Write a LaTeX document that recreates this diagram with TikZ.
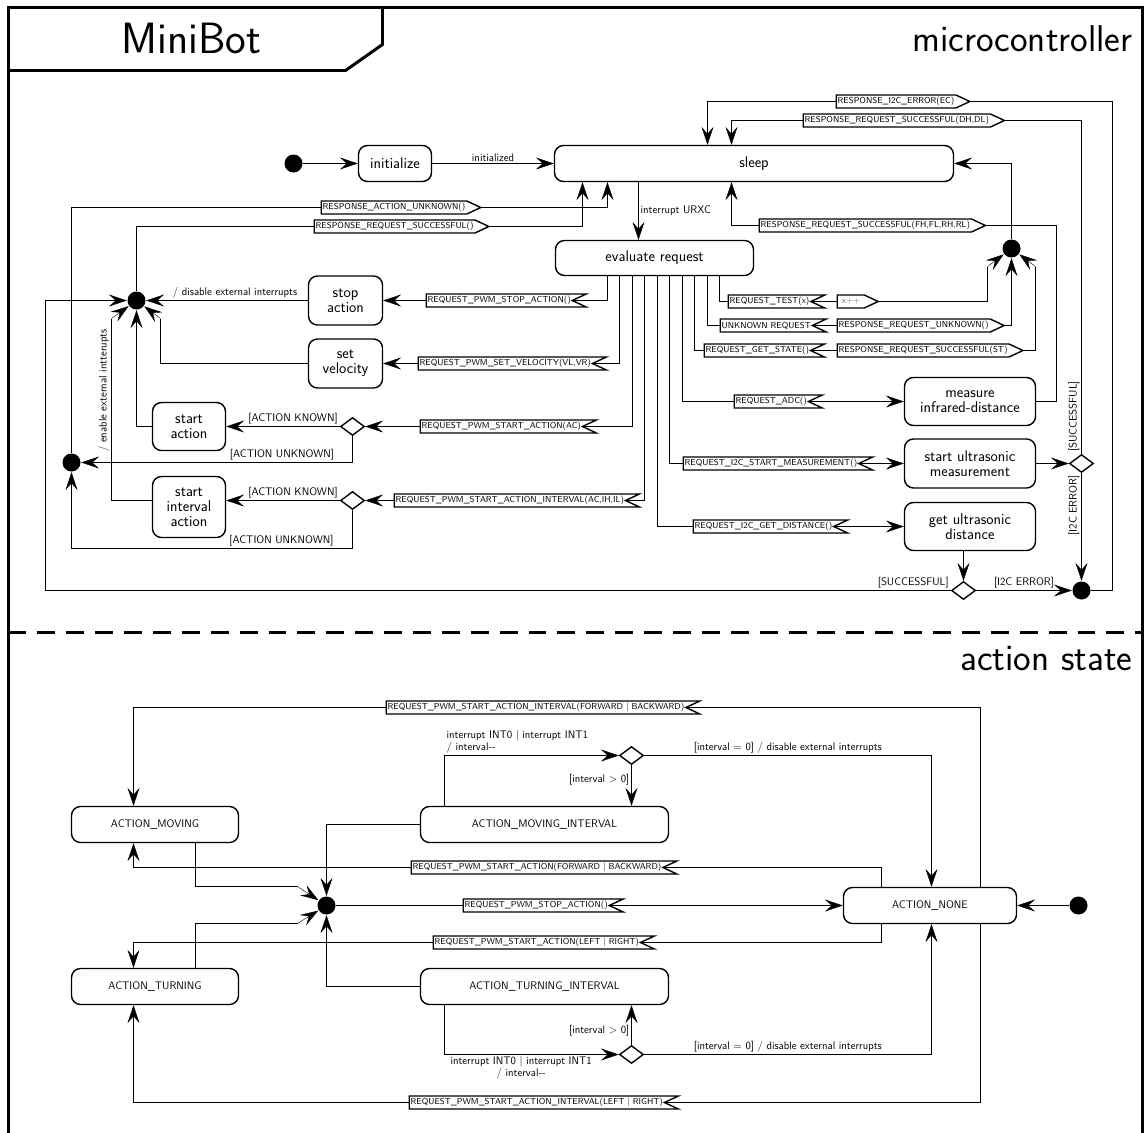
\documentclass[tikz,border=0pt]{standalone}
\usepackage{amsmath}
\usepackage{tikz}
\usetikzlibrary{arrows.meta, positioning, calc, backgrounds, shapes.geometric, shapes.symbols}
\renewcommand{\familydefault}{\sfdefault}

\begin{document}
\begin{tikzpicture}[
    x=1bp, y=-1bp, line width=1.4pt,
    >={Stealth[length=18pt, width=12pt, inset=7pt]},
    state/.style={draw, rounded corners=9pt, align=center, inner sep=2pt, font=\fontsize{15.5}{15}\selectfont},
    astate/.style={state, minimum width=167bp, minimum height=36bp, font=\fontsize{11}{13}\selectfont},
    sendsig/.style={signal, signal to=east, signal from=nowhere, signal pointer angle=50, draw, fill=white, anchor=west, minimum height=13bp, inner sep=1.5pt, font=\fontsize{8.7}{9}\selectfont},
    recvsig/.style={sendsig, signal to=nowhere, signal from=east},
    dot/.style={circle, fill, inner sep=0pt, minimum size=18bp},
    choice/.style={diamond, draw, fill=white, inner sep=0pt, minimum width=24bp, minimum height=18bp},
    lbl/.style={font=\fontsize{11}{12}\selectfont, inner sep=2pt},
]
    \useasboundingbox (-0.5,-0.5) rectangle (1147.5,1132.5);

    % frame and title
    \draw[line width=3pt] (8,1140) -- (8,7) -- (1142,7) -- (1142,1140);
    \draw[line width=3pt] (382,7) -- (382,44) -- (345,70) -- (8,70);
    \node[font=\fontsize{44}{44}\selectfont] (title) at (191,38) {MiniBot};
    \node[font=\fontsize{37.5}{38}\selectfont, anchor=east] (micro) at (1136,38) {microcontroller};
    \draw[line width=3pt, dash pattern=on 18pt off 11pt] (8,632) -- (1142,632);
    \node[font=\fontsize{37.5}{38}\selectfont, anchor=east] (actstate) at (1136,658) {action state};

    % microcontroller states
    \node[dot] (init) at (293,163) {};
    \node[state, minimum width=73bp, minimum height=36bp] (initialize) at (394.5,163) {initialize};
    \node[state, minimum width=399bp, minimum height=36bp] (sleep) at (753.5,163) {sleep};
    \node[state, minimum width=198bp, minimum height=35bp] (evalreq) at (654,257.5) {evaluate request};
    \node[state, minimum width=74bp, minimum height=49bp] (stopact) at (345,300) {stop\\action};
    \node[state, minimum width=74bp, minimum height=49bp] (setvel) at (345,363) {set\\velocity};
    \node[state, minimum width=73bp, minimum height=48bp] (startact) at (188.5,426) {start\\action};
    \node[state, minimum width=73bp, minimum height=61bp] (startint) at (188.5,506.5) {start\\interval\\action};
    \node[state, minimum width=131bp, minimum height=48bp] (measir) at (969.5,401) {measure\\infrared-distance};
    \node[state, minimum width=131bp, minimum height=49bp] (startus) at (969.5,463) {start ultrasonic\\measurement};
    \node[state, minimum width=131bp, minimum height=48bp] (getus) at (969.5,526) {get ultrasonic\\distance};

    % joins and choices
    \node[dot] (joinA) at (136,300) {};
    \node[dot] (joinU) at (71,462) {};
    \node[dot] (sleepjoin) at (1011,248) {};
    \node[dot] (errjoin) at (1081,590) {};
    \node[choice] (chA) at (352,426) {};
    \node[choice] (chI) at (352,500) {};
    \node[choice] (chM) at (1081,463) {};
    \node[choice] (chD) at (963,590) {};

    % signals
    \node[sendsig] (rI2Cerr) at (835,101) {RESPONSE\_I2C\_ERROR(EC)};
    \node[sendsig] (rDist) at (802,120) {RESPONSE\_REQUEST\_SUCCESSFUL(DH,DL)};
    \node[sendsig] (rUnkAct) at (320,207) {RESPONSE\_ACTION\_UNKNOWN()};
    \node[sendsig] (rSucc) at (313,226) {RESPONSE\_REQUEST\_SUCCESSFUL()};
    \node[sendsig] (rIR) at (758,225) {RESPONSE\_REQUEST\_SUCCESSFUL(FH,FL,RH,RL)};
    \node[recvsig] (qStop) at (425,300) {REQUEST\_PWM\_STOP\_ACTION()};
    \node[recvsig] (qVel) at (417,363) {REQUEST\_PWM\_SET\_VELOCITY(VL,VR)};
    \node[recvsig] (qAct) at (419,426) {REQUEST\_PWM\_START\_ACTION(AC)};
    \node[recvsig] (qInt) at (393,500) {REQUEST\_PWM\_START\_ACTION\_INTERVAL(AC,IH,IL)};
    \node[recvsig] (qTest) at (727,301) {REQUEST\_TEST(x)};
    \node[sendsig, minimum width=41bp, text=black!60] (rInc) at (836,301) {x++};
    \node[recvsig] (qUnk) at (719,325) {UNKNOWN REQUEST};
    \node[sendsig] (rUnk) at (836,325) {RESPONSE\_REQUEST\_UNKNOWN()};
    \node[recvsig] (qState) at (703,350) {REQUEST\_GET\_STATE()};
    \node[sendsig] (rState) at (836,350) {RESPONSE\_REQUEST\_SUCCESSFUL(ST)};
    \node[recvsig] (qADC) at (733,401) {REQUEST\_ADC()};
    \node[recvsig] (qStart) at (682,463) {REQUEST\_I2C\_START\_MEASUREMENT()};
    \node[recvsig] (qGet) at (692,526) {REQUEST\_I2C\_GET\_DISTANCE()};

    % action states
    \node[astate] (moving) at (154.5,824) {ACTION\_MOVING};
    \node[astate, minimum width=248bp] (movingint) at (544,824) {ACTION\_MOVING\_INTERVAL};
    \node[astate, minimum width=173bp] (none) at (929.5,905) {ACTION\_NONE};
    \node[astate] (turning) at (154.5,986) {ACTION\_TURNING};
    \node[astate, minimum width=248bp] (turningint) at (544,986) {ACTION\_TURNING\_INTERVAL};
    \node[dot] (noneinit) at (1078,905) {};
    \node[dot] (stopjoin) at (326,905) {};
    \node[choice] (chMov) at (631,755) {};
    \node[choice] (chTurn) at (631,1054) {};
    \node[recvsig] (qMovInt) at (385,707) {REQUEST\_PWM\_START\_ACTION\_INTERVAL(FORWARD | BACKWARD)};
    \node[recvsig] (qMov) at (410,867) {REQUEST\_PWM\_START\_ACTION(FORWARD | BACKWARD)};
    \node[recvsig] (qStopB) at (462,905) {REQUEST\_PWM\_STOP\_ACTION()};
    \node[recvsig] (qTurn) at (432,942) {REQUEST\_PWM\_START\_ACTION(LEFT | RIGHT)};
    \node[recvsig] (qTurnInt) at (408,1102) {REQUEST\_PWM\_START\_ACTION\_INTERVAL(LEFT | RIGHT)};

    % bends in front of the joins
    \coordinate (velbend) at (160,318);
    \coordinate (intbend) at (111,318);
    \coordinate (incbend) at (987,266);
    \coordinate (statebend) at (1035,266);
    \coordinate (movbend) at (297,886);
    \coordinate (turnbend) at (297,923);

    \begin{scope}[on background layer]
    % microcontroller transitions
    \draw[->] (init) -- (initialize);
    \draw[->] (initialize) -- node[lbl, above] {initialized} (sleep);
    \draw[->] (sleep.south -| 638,0) -- node[lbl, right] {interrupt URXC} (evalreq.north -| 638,0);
    \draw[->] (errjoin) -| (1112,101) -| (sleep.north -| 707,0);
    \draw[->] (chM) |- (1081,120) -| (sleep.north -| 731,0);
    \node[lbl, rotate=90, anchor=south west] at (chM.north) {[SUCCESSFUL]};
    \draw[->] (chM) -- (errjoin);
    \node[lbl, rotate=90, anchor=south east] at (chM.south) {[I2C ERROR]};
    \draw[->] (startus) -- (chM);
    \draw[->] (getus.south -| chD) -- (chD);
    \draw[->] (chD) -- node[lbl, above] {[I2C ERROR]} (errjoin);
    \draw[->] (chD) -- node[lbl, anchor=south east, pos=0] {[SUCCESSFUL]} (45,590) |- (joinA);
    \draw[->] (sleepjoin) |- (sleep);
    \draw[->] (measir) -| (1056,225) -| (sleep.south -| 731,0);
    \draw[->] (joinU) |- (rUnkAct.center) -| (sleep.south -| 607,0);
    \draw[->] (joinA) |- (rSucc.center) -| (sleep.south -| 582,0);
    % requests
    \draw[->] (evalreq.south -| 607,0) |- (stopact);
    \draw[->] (evalreq.south -| 619,0) |- (setvel);
    \draw[->] (evalreq.south -| 632,0) |- (chA);
    \draw[->] (evalreq.south -| 644,0) |- (chI);
    \draw[->] (evalreq.south -| 657,0) |- (getus);
    \draw[->] (evalreq.south -| 669,0) |- (startus);
    \draw[->] (evalreq.south -| 682,0) |- (measir);
    \draw (evalreq.south -| 694,0) |- (rState.center) -| (statebend);
    \draw[->] (statebend) -- (sleepjoin);
    \draw[->] (evalreq.south -| 707,0) |- (rUnk.center) -| (sleepjoin);
    \draw (evalreq.south -| 719,0) |- (rInc.center) -| (incbend);
    \draw[->] (incbend) -- (sleepjoin);
    % actions
    \draw[->] (stopact) -- node[lbl, above, pos=0.45] {/ disable external interrupts} (joinA);
    \draw (setvel) -| (velbend);
    \draw[->] (velbend) -- (joinA);
    \draw[->] (startact) -| (joinA);
    \draw (startint.west |- 0,500) -| (intbend);
    \draw[->] (intbend) -- (joinA);
    \node[lbl, rotate=90, anchor=south] at (111,390) {/ enable external intterupts};
    \draw[->] (chA) -- node[lbl, anchor=south east, pos=0] {[ACTION KNOWN]} (startact);
    \draw[->] (chA) |- node[lbl, anchor=south east, pos=0.53] {[ACTION UNKNOWN]} (joinU);
    \draw[->] (chI) -- node[lbl, anchor=south east, pos=0] {[ACTION KNOWN]} (chI -| startint.east);
    \draw[->] (chI) |- node[lbl, anchor=south east, pos=0.53] {[ACTION UNKNOWN]} (71,548) -- (joinU);

    % action state transitions
    \draw[->] (noneinit) -- (none);
    \draw[->] (none.north -| 980,0) |- (qMovInt.center) -| (moving.north -| 133,0);
    \draw[->] (none.north -| 881,0) |- (qMov.center) -| (moving.south -| 133,0);
    \draw (moving.south -| 195,0) |- (movbend);
    \draw[->] (movbend) -- (stopjoin);
    \draw[->] (movingint) -| (stopjoin);
    \draw[->] (movingint.north -| 444,0) |- node[lbl, anchor=south west, align=left, pos=0.5] {interrupt INT0 | interrupt INT1\\/ interval-{}-} (chMov);
    \draw[->] (chMov) -- node[lbl, left, pos=0.35] {[interval $>$ 0]} (movingint.north -| chMov);
    \draw[->] (chMov) -| node[lbl, above, pos=0.25] {[interval $=$ 0] / disable external interrupts} (none.north -| 931,0);
    \draw[->] (stopjoin) -- (none);
    \draw[->] (none.south -| 881,0) |- (qTurn.center) -| (turning.north -| 133,0);
    \draw (turning.north -| 195,0) |- (turnbend);
    \draw[->] (turnbend) -- (stopjoin);
    \draw[->] (turningint) -| (stopjoin);
    \draw[->] (turningint.south -| 444,0) |- node[lbl, anchor=north, align=center, pos=0.72] {interrupt INT0 | interrupt INT1\\/ interval-{}-} (chTurn);
    \draw[->] (chTurn) -- node[lbl, left, pos=0.35] {[interval $>$ 0]} (turningint.south -| chTurn);
    \draw[->] (chTurn) -| node[lbl, above, pos=0.25] {[interval $=$ 0] / disable external interrupts} (none.south -| 931,0);
    \draw[->] (none.south -| 980,0) |- (qTurnInt.center) -| (turning.south -| 133,0);
    \end{scope}
\end{tikzpicture}
\end{document}
